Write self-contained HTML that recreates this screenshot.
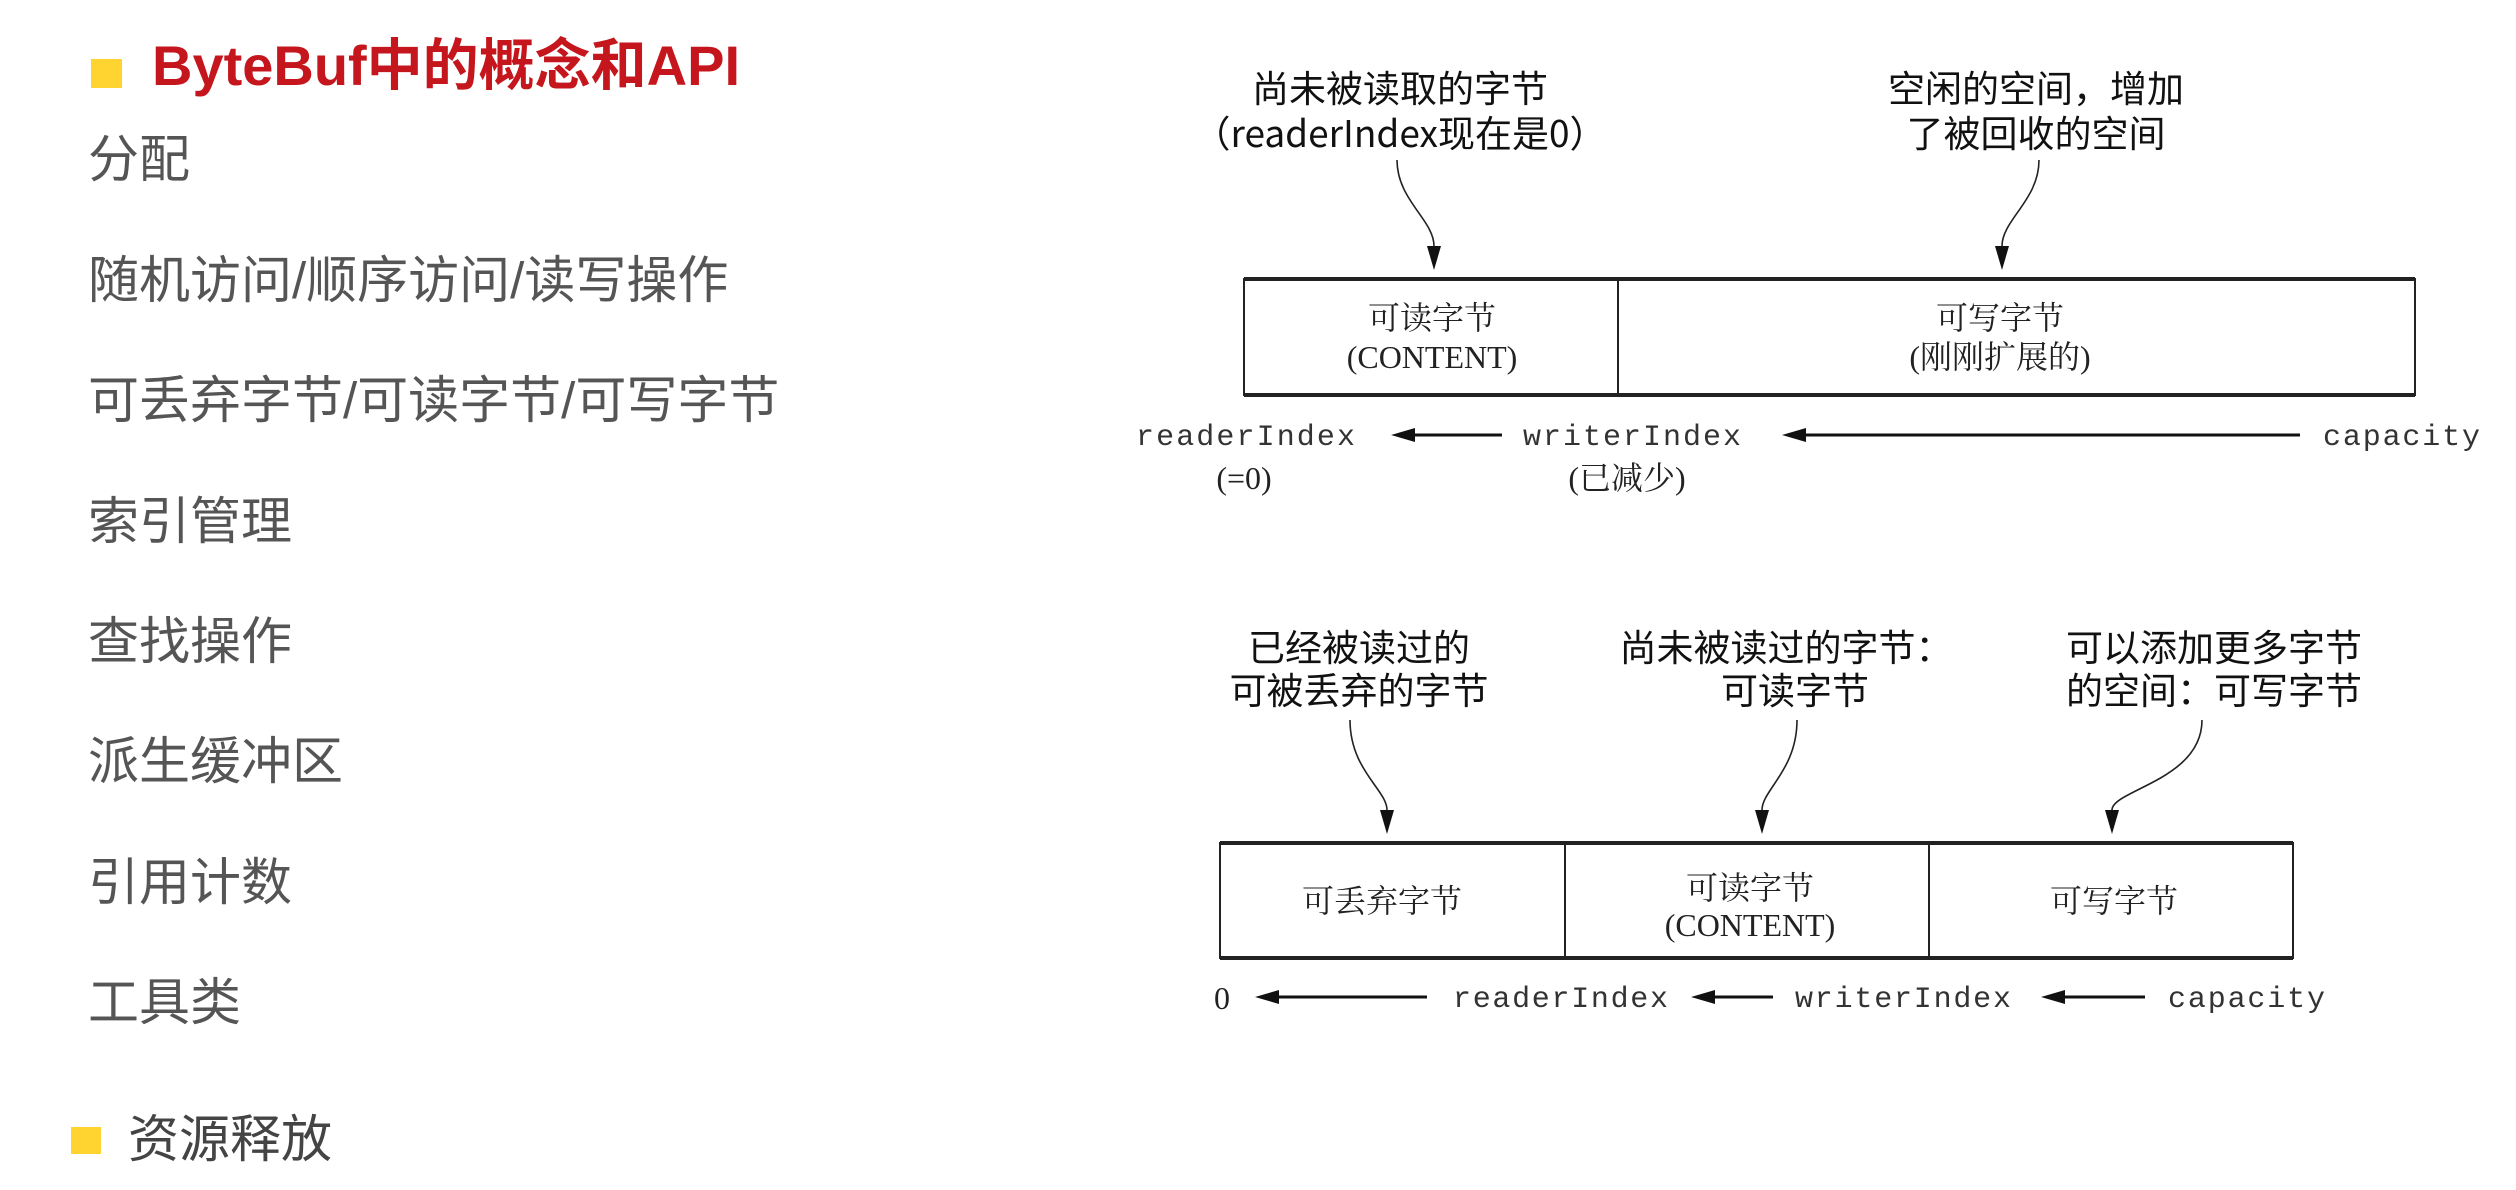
<!DOCTYPE html>
<html><head><meta charset="utf-8"><style>
html,body{margin:0;padding:0;background:#fff;}
body{width:2516px;height:1190px;position:relative;overflow:hidden;}
.t{position:absolute;left:88px;font-family:"Liberation Sans","Noto Sans CJK SC",sans-serif;font-size:51px;color:#555;line-height:1;white-space:nowrap;}
</style></head><body>
<div style="position:absolute;left:91px;top:59px;width:31px;height:29px;background:#ffd330"></div>
<div style="position:absolute;left:152px;top:38px;font-family:'Liberation Sans','Noto Sans CJK SC',sans-serif;font-weight:bold;font-size:56px;color:#c4161c;line-height:1;white-space:nowrap">ByteBuf中的概念和API</div>
<div class="t" style="top:134px">分配</div>
<div class="t" style="top:255px">随机访问/顺序访问/读写操作</div>
<div class="t" style="top:375px">可丢弃字节/可读字节/可写字节</div>
<div class="t" style="top:496px">索引管理</div>
<div class="t" style="top:616px">查找操作</div>
<div class="t" style="top:736px">派生缓冲区</div>
<div class="t" style="top:857px">引用计数</div>
<div class="t" style="top:977px">工具类</div>
<div style="position:absolute;left:71px;top:1127px;width:30px;height:27px;background:#ffd330"></div>
<div class="t" style="left:128px;top:1114px;color:#444">资源释放</div>

<svg width="2516" height="1190" style="position:absolute;left:0;top:0" xmlns="http://www.w3.org/2000/svg">
<g font-family="'Noto Sans CJK SC',sans-serif" font-size="37" fill="#111" text-anchor="middle">
<text x="1400" y="102">尚未被读取的字节</text>
<text x="1400" y="147">（readerIndex现在是0）</text>
<text x="2036" y="102">空闲的空间，增加</text>
<text x="2036" y="147">了被回收的空间</text>
<text x="1359" y="661">已经被读过的</text>
<text x="1359" y="704">可被丢弃的字节</text>
<text x="1786" y="661">尚未被读过的字节：</text>
<text x="1795" y="704">可读字节</text>
<text x="2214" y="661">可以添加更多字节</text>
<text x="2214" y="704">的空间：可写字节</text>
</g>
<g fill="none" stroke="#222" stroke-width="1.6">
<path d="M1397,160 C1397,200 1434,220 1434,246"/>
<path d="M2039,160 C2039,200 2002,220 2002,246"/>
<path d="M1350,720 C1350,770 1387,790 1387,810"/>
<path d="M1797,720 C1797,770 1762,790 1762,810"/>
<path d="M2202,720 C2202,780 2112,790 2112,810"/>
</g>
<g fill="#111">
<path d="M1427,246 L1441,246 L1434,270 z"/>
<path d="M1995,246 L2009,246 L2002,270 z"/>
<path d="M1380,810 L1394,810 L1387,834 z"/>
<path d="M1755,810 L1769,810 L1762,834 z"/>
<path d="M2105,810 L2119,810 L2112,834 z"/>
</g>
<g stroke="#222" fill="none">
<rect x="1244" y="279" width="1171" height="116" stroke-width="2"/>
<line x1="1244" y1="279" x2="2415" y2="279" stroke-width="4"/>
<line x1="1244" y1="395" x2="2415" y2="395" stroke-width="4"/>
<line x1="1618" y1="279" x2="1618" y2="395" stroke-width="2"/>
<rect x="1220" y="843" width="1073" height="115" stroke-width="2"/>
<line x1="1220" y1="843" x2="2293" y2="843" stroke-width="4"/>
<line x1="1220" y1="958" x2="2293" y2="958" stroke-width="4"/>
<line x1="1565" y1="843" x2="1565" y2="958" stroke-width="2"/>
<line x1="1929" y1="843" x2="1929" y2="958" stroke-width="2"/>
</g>
<g font-family="'Liberation Serif','Noto Serif CJK SC',serif" font-size="32" fill="#222" text-anchor="middle">
<text x="1432" y="329">可读字节</text>
<text x="1432" y="368">(CONTENT)</text>
<text x="2000" y="329">可写字节</text>
<text x="2000" y="368">(刚刚扩展的)</text>
<text x="1244" y="489">(=0)</text>
<text x="1627" y="489">(已减少)</text>
<text x="1382" y="912">可丢弃字节</text>
<text x="1750" y="899">可读字节</text>
<text x="1750" y="936">(CONTENT)</text>
<text x="2114" y="912">可写字节</text>
<text x="1222" y="1009">0</text>
</g>
<g font-family="'Liberation Mono',monospace" font-size="30" fill="#333">
<text x="1136" y="445" textLength="219">readerIndex</text>
<text x="1523" y="445" textLength="218">writerIndex</text>
<text x="2323" y="445" textLength="157">capacity</text>
<text x="1453" y="1007" textLength="215">readerIndex</text>
<text x="1795" y="1007" textLength="216">writerIndex</text>
<text x="2168" y="1007" textLength="157">capacity</text>
</g>
<g stroke="#111" stroke-width="3">
<line x1="1502" y1="435" x2="1410" y2="435"/>
<line x1="2300" y1="435" x2="1800" y2="435"/>
<line x1="1427" y1="997" x2="1275" y2="997"/>
<line x1="1773" y1="997" x2="1710" y2="997"/>
<line x1="2145" y1="997" x2="2060" y2="997"/>
</g>
<g fill="#111">
<path d="M1391,435 L1415,428 L1415,442 z"/>
<path d="M1782,435 L1806,428 L1806,442 z"/>
<path d="M1255,997 L1279,990 L1279,1004 z"/>
<path d="M1691,997 L1715,990 L1715,1004 z"/>
<path d="M2041,997 L2065,990 L2065,1004 z"/>
</g>
</svg>
</body></html>
